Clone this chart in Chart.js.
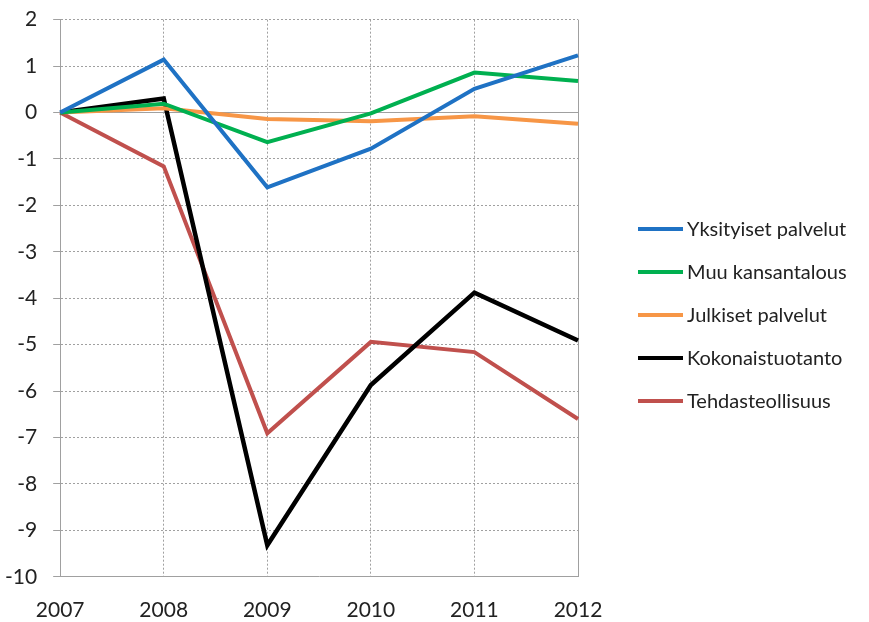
<!DOCTYPE html>
<html>
<head>
<meta charset="utf-8">
<script src="https://cdn.jsdelivr.net/npm/chart.js@4"></script>
<style>
  html, body { margin: 0; padding: 0; background: #fff; }
  #wrap { width: 869px; height: 622px; }
</style>
</head>
<body>
<div id="wrap"><canvas id="chart" width="869" height="622"></canvas></div>
<script>
const years = ['2007', '2008', '2009', '2010', '2011', '2012'];
const seriesNames = ['Yksityiset palvelut', 'Muu kansantalous', 'Julkiset palvelut', 'Kokonaistuotanto', 'Tehdasteollisuus'];
const yksityiset = [0, 1.14, -1.61, -0.78, 0.51, 1.23];
const muu = [0, 0.19, -0.64, -0.02, 0.86, 0.68];
const julkiset = [0, 0.09, -0.14, -0.19, -0.08, -0.24];
const kokonais = [0, 0.30, -9.32, -5.87, -3.88, -4.91];
const tehdas = [0, -1.16, -6.91, -4.94, -5.16, -6.60];
const colors = ['#1f72c4', '#00b050', '#f79646', '#000000', '#c0504d'];

const values = [yksityiset, muu, julkiset, kokonais, tehdas];
const font = "Lato, 'Liberation Sans', sans-serif";
const gridGray = '#a0a0a0';
const textColor = '#222';

// legend drawn by hand, the built-in one gets squeezed to half width on the right
const sideLegend = {
  id: 'sideLegend',
  afterDraw(chart) {
    const c = chart.ctx;
    const items = chart.data.datasets;
    const rowH = 43;
    const x0 = chart.chartArea.right + 60;
    let y = 315 - (items.length - 1) * rowH / 2;
    c.save();
    c.font = '20px ' + font;
    c.textBaseline = 'middle';
    c.fillStyle = textColor;
    items.forEach(ds => {
      c.strokeStyle = ds.borderColor;
      c.lineWidth = 4;
      c.beginPath();
      c.moveTo(x0, y);
      c.lineTo(x0 + 45, y);
      c.stroke();
      c.fillText(ds.label, x0 + 49, y + 1);
      y += rowH;
    });
    c.restore();
  }
};

const ctx = document.getElementById('chart').getContext('2d');
new Chart(ctx, {
  type: 'line',
  data: {
    labels: years,
    datasets: seriesNames.map((name, i) => ({
      label: name,
      data: values[i],
      borderColor: colors[i],
      backgroundColor: colors[i],
      borderWidth: i === 3 ? 4.5 : 4,
      pointRadius: 0,
      tension: 0,
      fill: false
    }))
  },
  options: {
    responsive: false,
    animation: false,
    layout: { padding: { top: 12, right: 291, left: -11, bottom: -22 } },
    plugins: {
      tooltip: { enabled: false },
      legend: { display: false }
    },
    scales: {
      x: {
        offset: false,
        grid: {
          color: gridGray,
          lineWidth: 1,
          drawTicks: false
        },
        border: {
          display: true,
          color: gridGray,
          dash: ctx => ctx.index === years.length - 1 ? [] : [2, 2]
        },
        ticks: {
          color: textColor,
          padding: 21,
          maxRotation: 0,
          font: { family: font, size: 21 }
        }
      },
      y: {
        min: -10,
        max: 2,
        grid: {
          color: gridGray,
          lineWidth: 1,
          tickLength: 7
        },
        border: {
          display: true,
          color: gridGray,
          dash: ctx => (ctx.tick && ctx.tick.value === 0) ? [] : [2, 2]
        },
        ticks: {
          stepSize: 1,
          color: textColor,
          padding: 16,
          // small lineHeight keeps the top overflow padding from pushing the plot down
          font: { family: font, size: 21, lineHeight: 0.35 }
        }
      }
    }
  },
  plugins: [sideLegend]
});
</script>
</body>
</html>
